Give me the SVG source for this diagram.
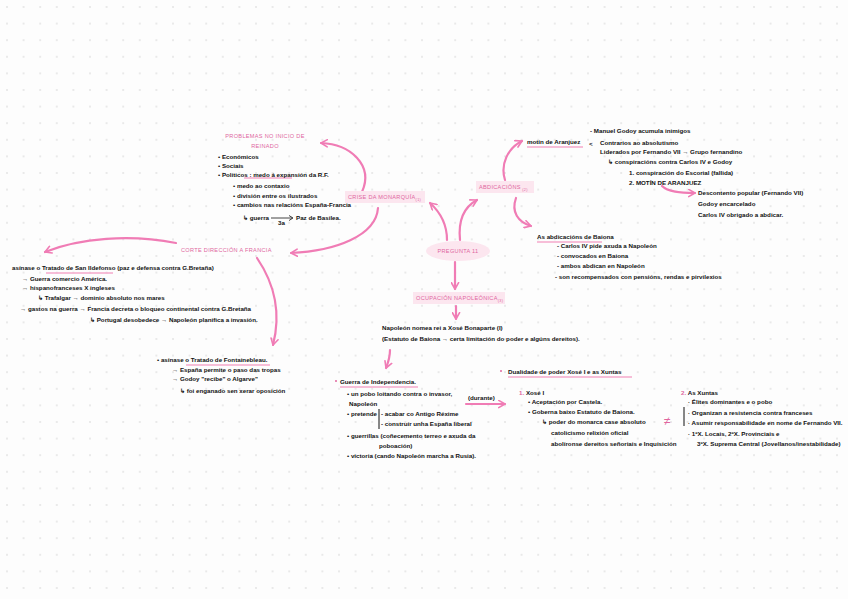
<svg xmlns="http://www.w3.org/2000/svg" width="848" height="599" viewBox="0 0 848 599">
<defs>
<pattern id="dots" width="16.6" height="16.6" patternUnits="userSpaceOnUse" x="6" y="6">
<circle cx="1" cy="1" r="0.8" fill="#cfcfcf"/>
</pattern>
<marker id="ah" viewBox="0 0 10 10" refX="8" refY="5" markerWidth="9" markerHeight="9" markerUnits="userSpaceOnUse" orient="auto">
<path d="M1,1 L8,5 L1,9" fill="none" stroke="#f07cb5" stroke-width="1.8" stroke-linecap="round" stroke-linejoin="round"/>
</marker>
<style>
.t{font-family:"Liberation Sans",Arial,sans-serif;font-size:6.2px;fill:#111;font-weight:bold}
.p{font-family:"Liberation Sans",Arial,sans-serif;font-size:5.6px;fill:#e0679f;letter-spacing:0.3px}
.pk{fill:#e0679f}
.hl{fill:#fce6ef}
.ul{stroke:#f5a9cb;stroke-width:1.4;fill:none}
.c{stroke:#f07cb5;stroke-width:2.2;fill:none;stroke-linecap:round}
.bar{stroke:#111;stroke-width:1}
</style>
</defs>
<rect width="848" height="599" fill="#fdfdfd"/>
<rect width="848" height="599" fill="url(#dots)"/>

<g id="connectors">
<path class="c" d="M362,192 C374,165 350,144 321,143" marker-end="url(#ah)"/>
<path class="c" d="M378,208 C376,236 335,251 291,253" marker-end="url(#ah)"/>
<path class="c" d="M176,243 C130,234 80,238 45,252" marker-end="url(#ah)"/>
<path class="c" d="M257,258 C272,280 282,310 273,345" marker-end="url(#ah)"/>
<path class="c" d="M447,240 C447,225 440,212 430,203" marker-end="url(#ah)"/>
<path class="c" d="M460,240 C458,220 464,207 477,200" marker-end="url(#ah)"/>
<path class="c" d="M455,262 L455,289" marker-end="url(#ah)"/>
<path class="c" d="M456,306 L456,319" marker-end="url(#ah)"/>
<path class="c" d="M505,180 C500,164 508,148 522,141" marker-end="url(#ah)"/>
<path class="c" d="M516,198 C511,212 518,222 531,226" marker-end="url(#ah)"/>
<path class="c" d="M662,186 C668,192 680,193 695,193" marker-end="url(#ah)"/>
<path class="c" d="M390,350 C390,358 388,363 386,368" marker-end="url(#ah)"/>
<path class="c" d="M466,404 L505,404" marker-end="url(#ah)"/>
</g>

<g id="pregunta">
<ellipse cx="458" cy="251" rx="32" ry="10" class="hl"/>
<text class="p" x="458" y="253" text-anchor="middle" font-size="6.5">PREGUNTA 11</text>
</g>

<g id="crise">
<rect x="345" y="191" width="80" height="12" class="hl"/>
<text class="p" x="348" y="199">CRISE DA MONARQUÍA<tspan font-size="3.8" dy="2">(1)</tspan></text>
</g>

<g id="abdicacions">
<rect x="476" y="181" width="58" height="12" class="hl"/>
<text class="p" x="479" y="189">ABDICACIÓNS<tspan font-size="3.8" dy="2"> (2)</tspan></text>
</g>

<g id="ocupacion">
<rect x="413" y="292" width="92" height="12" class="hl"/>
<text class="p" x="416" y="300">OCUPACIÓN NAPOLEÓNICA<tspan font-size="3.8" dy="2">(3)</tspan></text>
</g>

<g id="corte">
<text class="p" x="181" y="252">CORTE DIRECCIÓN A FRANCIA</text>
</g>

<g id="problemas">
<text class="p" x="265" y="138" text-anchor="middle">PROBLEMAS NO INICIO DE</text>
<text class="p" x="265" y="148" text-anchor="middle">REINADO</text>
<path class="ul" d="M244,178 L292,178"/>
<text class="t" x="218" y="159">• Económicos</text>
<text class="t" x="218" y="168">• Sociais</text>
<text class="t" x="218" y="177">• Políticos : medo á expansión da R.F.</text>
<text class="t" x="233" y="188">• medo ao contaxio</text>
<text class="t" x="233" y="198">• división entre os ilustrados</text>
<text class="t" x="233" y="207">• cambios nas relacións España-Francia</text>
<text class="t" x="243" y="220">↳ guerra</text>
<path d="M271,218 L292,218" stroke="#111" stroke-width="0.8"/>
<path d="M289,215.5 L293,218 L289,220.5" stroke="#111" stroke-width="0.8" fill="none"/>
<text class="t" x="278" y="225" font-size="4.5">3a</text>
<text class="t" x="296" y="220">Paz de Basilea.</text>
</g>

<g id="motin">
<text class="t" x="527" y="144" font-size="6.8">motín de Aranjuez</text>
<path class="ul" d="M527,147 L583,147"/>
</g>

<g id="motin-detalle">
<text class="t" x="590" y="133">- Manuel Godoy acumula inimigos</text>
<text class="t" x="589" y="146" font-size="9" font-weight="normal">&lt;</text>
<text class="t" x="600" y="145">Contrarios ao absolutismo</text>
<text class="t" x="600" y="154">Liderados por Fernando VII → Grupo fernandino</text>
<text class="t" x="608" y="164">↳ conspiracións contra Carlos IV e Godoy</text>
<text class="t" x="629" y="175">1. conspiración do Escorial (fallida)</text>
<text class="t" x="629" y="185">2. MOTÍN DE ARANJUEZ</text>
<text class="t" x="698" y="195">Descontento popular (Fernando VII)</text>
<text class="t" x="698" y="206">Godoy encarcelado</text>
<text class="t" x="698" y="217">Carlos IV obrigado a abdicar.</text>
</g>

<g id="baiona">
<text class="t" x="537" y="239">As abdicacións de Baiona</text>
<path class="ul" d="M537,242 L602,242"/>
<text class="t" x="557" y="248">- Carlos IV pide axuda a Napoleón</text>
<text class="t" x="557" y="258">- convocados en Baiona</text>
<text class="t" x="557" y="268">- ambos abdican en Napoleón</text>
<text class="t" x="555" y="279">- son recompensados con pensións, rendas e pirvilexios</text>
</g>

<g id="ildefonso">
<text class="t" x="12" y="270">asínase o Tratado de San Ildefonso (paz e defensa contra G.Bretaña)</text>
<path class="ul" d="M46,273 L113,273"/>
<text class="t" x="22" y="281">→ Guerra comercio América.</text>
<text class="t" x="22" y="290">→ hispanofranceses X ingleses</text>
<text class="t" x="38" y="300">↳ Trafalgar → dominio absoluto nos mares</text>
<text class="t" x="20" y="311">→ gastos na guerra → Francia decreta o bloqueo continental contra G.Bretaña</text>
<text class="t" x="90" y="322">↳ Portugal desobedece → Napoleón planifica a invasión.</text>
</g>

<g id="fontainebleau">
<text class="t" x="157" y="362">• asínase o Tratado de Fontainebleau.</text>
<path class="ul" d="M186,365 L270,365"/>
<text class="t" x="172" y="372">→ España permite o paso das tropas</text>
<text class="t" x="172" y="381">→ Godoy "recibe" o Algarve"</text>
<text class="t" x="180" y="393">↳ foi enganado sen xerar oposición</text>
</g>

<g id="xose-bonaparte">
<text class="t" x="382" y="330">Napoleón nomea rei a Xosé Bonaparte (I)</text>
<text class="t" x="382" y="341">(Estatuto de Baiona → certa limitación do poder e algúns dereitos).</text>
</g>

<g id="guerra">
<circle cx="336" cy="381" r="1" class="pk"/>
<text class="t" x="340" y="384">Guerra de Independencia.</text>
<path class="ul" d="M340,387 L418,387"/>
<text class="t" x="347" y="396">• un pobo loitando contra o invasor,</text>
<text class="t" x="349" y="406">Napoleón</text>
<text class="t" x="347" y="416">• pretende</text>
<path class="bar" d="M379,409 L379,429"/>
<text class="t" x="381" y="416">- acabar co Antigo Réxime</text>
<text class="t" x="381" y="426">- construír unha España liberal</text>
<text class="t" x="347" y="438">• guerrillas (coñecemento terreo e axuda da</text>
<text class="t" x="379" y="448">poboación)</text>
<text class="t" x="347" y="458">• victoria (cando Napoleón marcha a Rusia).</text>
<text class="t" x="468" y="400" font-size="4.5">(durante)</text>
</g>

<g id="dualidade">
<circle cx="501" cy="371" r="1" class="pk"/>
<text class="t" x="508" y="374">Dualidade de poder  Xosé I e as Xuntas</text>
<path class="ul" d="M508,377 L632,377"/>
</g>

<g id="xose-i">
<text class="t" x="519" y="395"><tspan class="pk">1.</tspan> Xosé I</text>
<text class="t" x="528" y="404">• Aceptación por Castela.</text>
<text class="t" x="528" y="414">• Goberna baixo Estatuto de Baiona.</text>
<text class="t" x="542" y="424">↳ poder do monarca case absoluto</text>
<text class="t" x="551" y="435">catolicismo relixión oficial</text>
<text class="t" x="551" y="446">abolíronse dereitos señoriais e Inquisición</text>
</g>

<text x="664" y="425" font-family="Liberation Sans, sans-serif" font-size="12" fill="#e0679f">≠</text>

<g id="xuntas">
<text class="t" x="681" y="395"><tspan class="pk">2.</tspan> As Xuntas</text>
<text class="t" x="688" y="404">· Élites dominantes e o pobo</text>
<path class="bar" d="M684,407 L684,426"/>
<text class="t" x="688" y="415">· Organizan a resistencia contra franceses</text>
<text class="t" x="688" y="425">· Asumir responsabilidade en nome de Fernando VII.</text>
<text class="t" x="688" y="436">· 1ºX. Locais, 2ºX. Provinciais  e</text>
<text class="t" x="697" y="446">3ºX. Suprema Central (Jovellanos/inestabilidade)</text>
</g>
</svg>
